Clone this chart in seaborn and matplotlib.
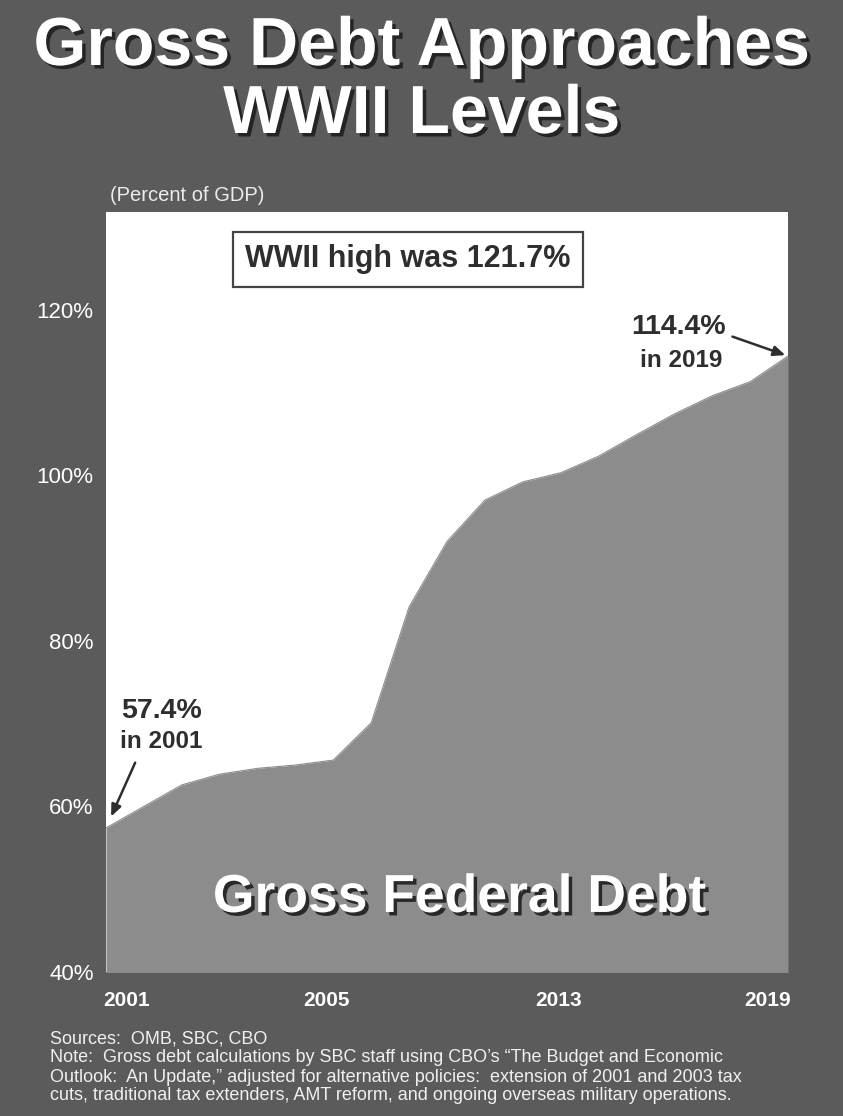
import numpy as np
import pandas as pd
import seaborn as sns
import matplotlib.pyplot as plt
import matplotlib.patheffects as pe

# data (gross federal debt, percent of GDP)
years = list(range(2001, 2020))
debt = [57.4, 60.0, 62.6, 63.9, 64.6, 65.0, 65.6, 70.1, 84.1, 92.0,
        97.0, 99.2, 100.3, 102.3, 104.9, 107.4, 109.6, 111.3, 114.4]
wwii_high = 121.7

xtick_labels = ["2001", "2005", "2013", "2019"]
xtick_pos = [2001.53, 2006.82, 2012.95, 2018.47]  # where the original prints them
ytick_vals = [40, 60, 80, 100, 120]

notes = [
    "Sources:  OMB, SBC, CBO",
    "Note:  Gross debt calculations by SBC staff using CBO\u2019s \u201cThe Budget and Economic",
    "Outlook:  An Update,\u201d adjusted for alternative policies:  extension of 2001 and 2003 tax",
    "cuts, traditional tax extenders, AMT reform, and ongoing overseas military operations.",
]

df = pd.DataFrame({"year": years, "debt": debt})

sns.set_style("white")
plt.rcParams['font.family'] = ['Liberation Sans', 'DejaVu Sans']

BG = "#5b5b5b"
FILL = "#8c8c8c"
DARK = "#2e2e2e"

fig = plt.figure(figsize=(8.43, 11.16), dpi=100, facecolor=BG)
ax = fig.add_axes([106 / 843, 1 - 972 / 1116, 682 / 843, 760 / 1116])
ax.set_facecolor("white")

sns.lineplot(data=df, x="year", y="debt", color=FILL, lw=0.8, ax=ax)
ax.fill_between(df["year"], 0, df["debt"], color=FILL, lw=0)

ax.set_xlim(years[0], years[-1])
ax.set_ylim(40, 131.8)
for s in ax.spines.values():
    s.set_visible(False)
ax.set_xlabel("")
ax.set_ylabel("")

ax.set_xticks(xtick_pos, xtick_labels)
ax.set_yticks(ytick_vals, [f"{v}%" for v in ytick_vals])
ax.tick_params(axis="x", length=0, pad=14, labelsize=15, labelcolor="white")
ax.tick_params(axis="y", length=0, pad=9, labelsize=16, labelcolor="white")
for lab in ax.get_xticklabels():
    lab.set_fontweight("bold")

shadow = [pe.SimplePatchShadow(offset=(2.5, -2.5), shadow_rgbFace="#1e1e1e", alpha=0.9), pe.Normal()]

# title
fig.text(0.5, 1 - 65 / 1116, "Gross Debt Approaches", ha="center", va="baseline",
         fontsize=49, fontweight="bold", color="white", path_effects=shadow)
fig.text(0.5, 1 - 133 / 1116, "WWII Levels", ha="center", va="baseline",
         fontsize=49, fontweight="bold", color="white", path_effects=shadow)
fig.text(110 / 843, 1 - 201 / 1116, "(Percent of GDP)", ha="left", va="baseline",
         fontsize=14.5, color="#ececec")

# WWII box
ax.text(0.443, 0.9375, f"WWII high was {wwii_high}%", transform=ax.transAxes,
        ha="center", va="center", fontsize=22, fontweight="bold", color=DARK,
        bbox=dict(boxstyle="square,pad=0.4", fc="white", ec="#444444", lw=1.6))

# start / end callouts
ax.annotate(f"{debt[0]}%", xy=(years[0], debt[0]), xytext=(40, 84), textcoords="offset points",
            ha="center", va="center", fontsize=20.5, fontweight="bold", color=DARK)
ax.annotate(f"in {years[0]}", xy=(years[0], debt[0]), xytext=(40, 62), textcoords="offset points",
            ha="center", va="center", fontsize=17.5, fontweight="bold", color=DARK)
ax.annotate("", xy=(years[0], debt[0]), xytext=(21, 47), textcoords="offset points",
            arrowprops=dict(arrowstyle="-|>,head_length=0.7,head_width=0.3", color=DARK,
                            lw=1.8, shrinkA=0, shrinkB=9))

ax.annotate(f"{debt[-1]}%", xy=(years[-1], debt[-1]), xytext=(-79, 21), textcoords="offset points",
            ha="center", va="center", fontsize=20.5, fontweight="bold", color=DARK)
ax.annotate(f"in {years[-1]}", xy=(years[-1], debt[-1]), xytext=(-77, -3), textcoords="offset points",
            ha="center", va="center", fontsize=17.5, fontweight="bold", color=DARK)
ax.annotate("", xy=(years[-1], debt[-1]), xytext=(-40, 14), textcoords="offset points",
            arrowprops=dict(arrowstyle="-|>,head_length=0.7,head_width=0.3", color=DARK,
                            lw=1.8, shrinkA=0, shrinkB=2))

ax.text(0.519, 0.079, "Gross Federal Debt", transform=ax.transAxes, ha="center", va="baseline",
        fontsize=38.5, fontweight="bold", color="white", path_effects=shadow)

# footer
for i, line in enumerate(notes):
    fig.text(50 / 843, 1 - (1039 + 19 * i) / 1116, line, ha="left", va="center",
             fontsize=13, color="#f0f0f0")

fig.savefig("out.png", dpi=100, facecolor=BG)
